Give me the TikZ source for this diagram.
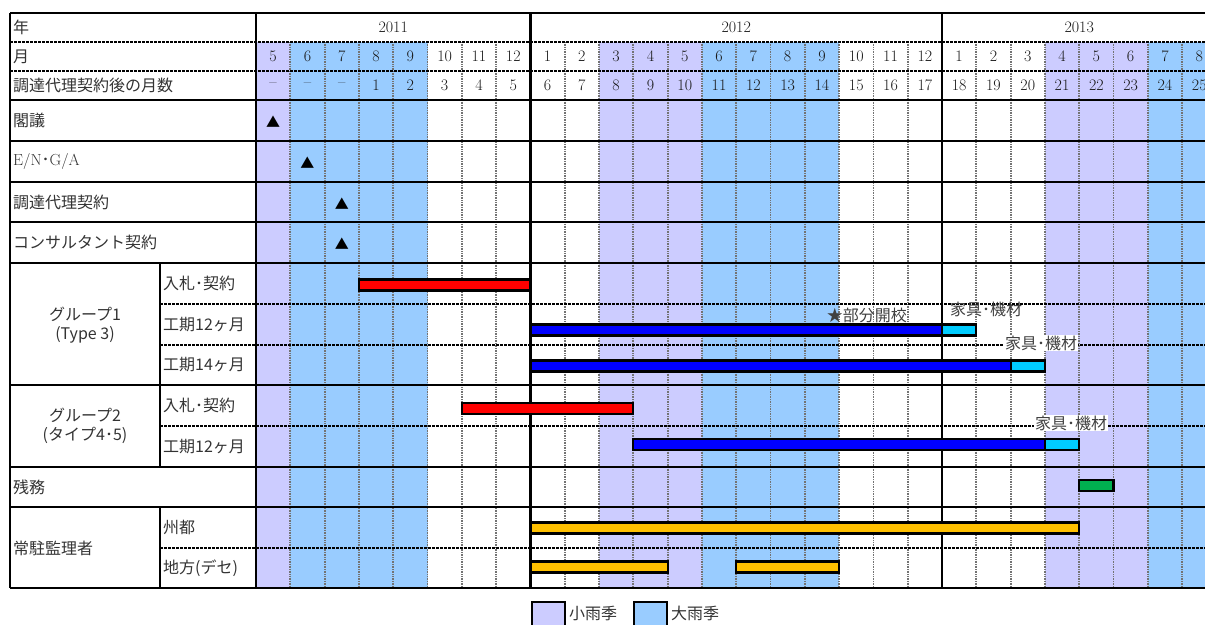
\documentclass[tikz,border=0pt]{standalone}
\usepackage{fontspec}
\newfontfamily\jp{Noto Sans CJK JP}
\usetikzlibrary{positioning, calc}
\definecolor{smallrain}{HTML}{CCCCFF}
\definecolor{bigrain}{HTML}{99CCFF}
\definecolor{bidred}{HTML}{FF0000}
\definecolor{workblue}{HTML}{0000FF}
\definecolor{furncyan}{HTML}{00CCFF}
\definecolor{closegreen}{HTML}{00B050}
\definecolor{staffgold}{HTML}{FFC000}
\newcommand{\mx}[1]{256+34.3*(#1)}
\newcommand{\gbar}[4]{\draw[barline, fill=#4] ({\mx{#1}},#3-5.5) rectangle ({\mx{#2}},#3+5.5);}

\begin{document}
\begin{tikzpicture}[x=1pt, y=-1pt,
    thickline/.style={line width=2.4pt},
    gridline/.style={black!55, line width=1.8pt, dash pattern=on 1pt off 0.7pt},
    subline/.style={black, line width=1.3pt, dash pattern=on 2.5pt off 1.5pt},
    barline/.style={line width=2.2pt, draw=black},
    lab/.style={anchor=west, inner sep=0pt, text=black!80, font=\jp\fontsize{16}{19}\selectfont},
    num/.style={inner sep=0pt, text=black!90, font=\fontsize{16}{18}\selectfont},
    milestone/.style={inner sep=0pt, font=\jp\fontsize{14}{16}\selectfont},
    note/.style={inner sep=1pt, text=black!75, font=\jp\fontsize{16}{19}\selectfont}]
    \clip (0,0) rectangle (1205,624);

    % rainy seasons
    \foreach \i in {0,10,11,12,23,24,25}
        \fill[smallrain] ({\mx{\i}},42) rectangle ({\mx{\i+1}},588);
    \foreach \i in {1,...,4,13,14,15,16,26,27}
        \fill[bigrain] ({\mx{\i}},42) rectangle ({\mx{\i+1}},588);

    % grid
    \foreach \i in {1,...,28}
        \draw[gridline] ({\mx{\i}},42) -- ({\mx{\i}},588);
    \draw[subline] (10,42) -- (1215,42);
    \draw[subline] (10,71) -- (1215,71);
    \foreach \y in {304,345,426,548}
        \draw[subline] (160,\y) -- (1215,\y);
    \foreach \y in {13,100,141,182,222,263,385,467,507,588}
        \draw[thickline] (10,\y) -- (1215,\y);
    \foreach \i in {0,8,20}
        \draw[thickline] ({\mx{\i}},13) -- ({\mx{\i}},588);
    \draw[thickline] (10,13) -- (10,588);
    \draw[thickline] (160,263) -- (160,467);
    \draw[thickline] (160,507) -- (160,588);

    % header
    \node[num] (y2011) at ({\mx{4}},27) {2011};
    \node[num] (y2012) at ({\mx{14}},27) {2012};
    \node[num] (y2013) at ({\mx{24}},27) {2013};
    \foreach \i in {0,...,27} {
        \pgfmathtruncatemacro{\m}{mod(\i+4,12)+1}
        \pgfmathtruncatemacro{\k}{\i-2}
        \node[num] (m\i) at ({\mx{\i+0.5}},56.5) {\m};
        \ifnum\i<3
            \node[num] (k\i) at ({\mx{\i+0.5}},85.5) {--};
        \else
            \node[num] (k\i) at ({\mx{\i+0.5}},85.5) {\k};
        \fi
    }

    % row labels
    \node[lab] (year) at (13,27) {年};
    \node[lab] (month) at (13,56.5) {月};
    \node[lab] (count) at (13,85.5) {調達代理契約後の月数};
    \node[lab] (cabinet) at (13,120.5) {閣議};
    \node[lab] (engga) at (13,161.5) {\rmfamily E/N\jp･\rmfamily G/A};
    \node[lab] (procure) at (13,202) {調達代理契約};
    \node[lab] (consult) at (13,242.5) {コンサルタント契約};
    \node[lab, anchor=center, align=center] (grpone) at (85,325) {グループ1\\(Type 3)};
    \node[lab, anchor=center, align=center] (grptwo) at (85,426) {グループ2\\(タイプ4･5)};
    \node[lab] (rest) at (13,487) {残務};
    \node[lab] (resident) at (13,548) {常駐監理者};
    \node[lab] (bidone) at (163,283.5) {入札･契約};
    \node[lab] (workone) at (163,324.5) {工期12ヶ月};
    \node[lab] (workoneb) at (163,365) {工期14ヶ月};
    \node[lab] (bidtwo) at (163,405.5) {入札･契約};
    \node[lab] (worktwo) at (163,446.5) {工期12ヶ月};
    \node[lab] (capital) at (163,527.5) {州都};
    \node[lab] (local) at (163,568) {地方(デセ)};

    % milestones
    \node[milestone] (tcab) at ({\mx{0.5}},122) {▲};
    \node[milestone] (teng) at ({\mx{1.5}},163) {▲};
    \node[milestone] (tpro) at ({\mx{2.5}},203.5) {▲};
    \node[milestone] (tcon) at ({\mx{2.5}},244) {▲};

    % bars
    \gbar{3}{8}{285}{bidred}
    \gbar{8}{20}{330}{workblue}
    \gbar{20}{21}{330}{furncyan}
    \gbar{8}{22}{366}{workblue}
    \gbar{22}{23}{366}{furncyan}
    \gbar{6}{11}{408.5}{bidred}
    \gbar{11}{23}{444.5}{workblue}
    \gbar{23}{24}{444.5}{furncyan}
    \gbar{24}{25}{485.5}{closegreen}
    \gbar{8}{24}{528}{staffgold}
    \gbar{8}{12}{567}{staffgold}
    \gbar{14}{17}{567}{staffgold}

    % notes
    \node[note, anchor=east] (open) at (908,315) {★部分開校};
    \node[note] (furnone) at (986,309) {家具･機材};
    \node[note, fill=white] (furntwo) at (1041,343) {家具･機材};
    \node[note, fill=white] (furnthree) at (1071,423) {家具･機材};

    % legend
    \draw[line width=2pt, fill=smallrain] (532,602) rectangle (565,632);
    \node[lab] (smalltext) at (569,613) {小雨季};
    \draw[line width=2pt, fill=bigrain] (634,602) rectangle (667,632);
    \node[lab] (bigtext) at (671,613) {大雨季};
\end{tikzpicture}
\end{document}
